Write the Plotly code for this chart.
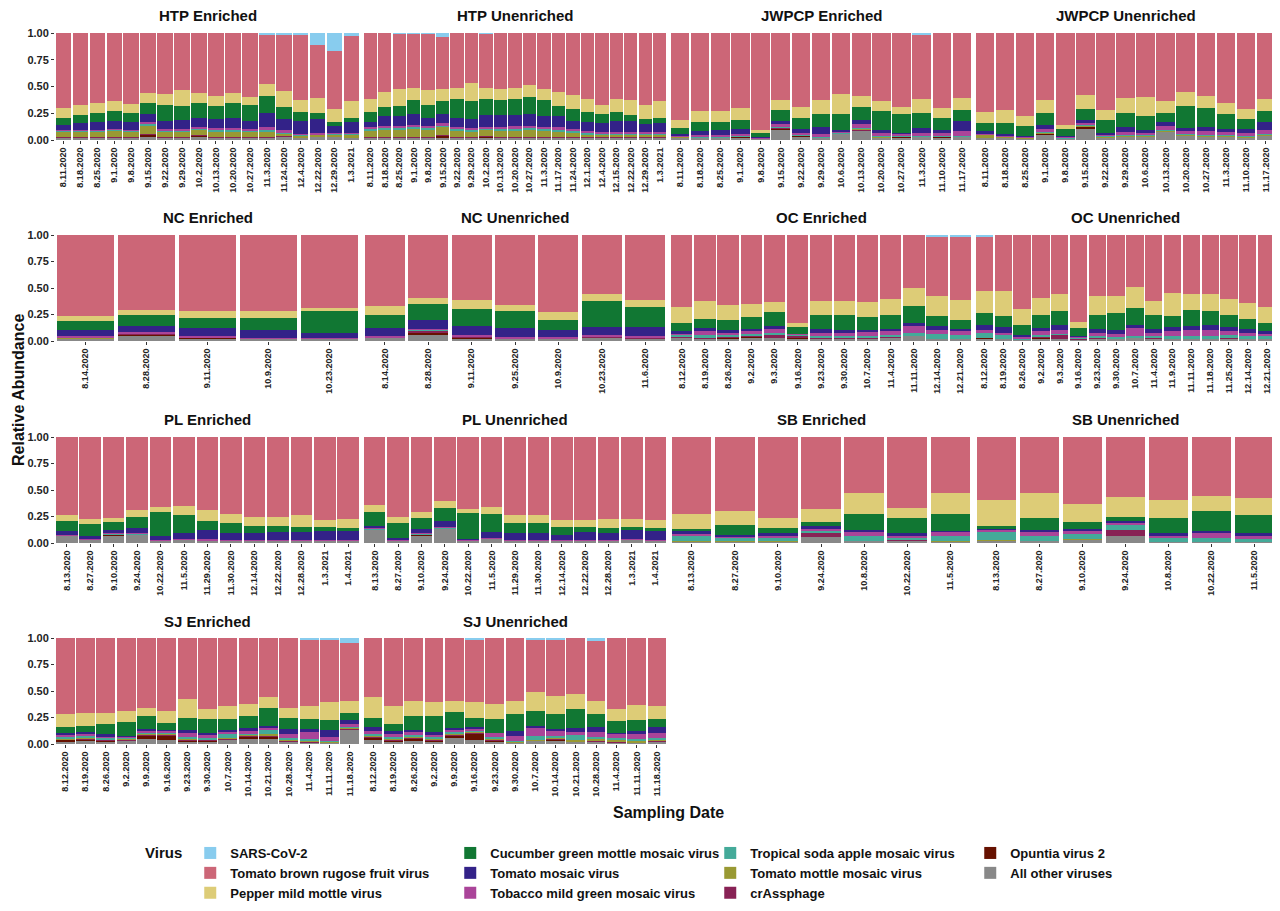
import plotly.graph_objects as go

# %% Data (thickness of minor layers; cumulative tops for ToMV / CGMMV / PMMoV)

HTP_ENR = dict(
    dates=["8.11.2020", "8.18.2020", "8.25.2020", "9.1.2020", "9.8.2020", "9.15.2020", "9.22.2020",
           "9.29.2020", "10.2.2020", "10.13.2020", "10.20.2020", "10.27.2020", "11.3.2020",
           "11.24.2020", "12.4.2020", "12.22.2020", "12.29.2020", "1.3.2021"],
    other=[.02, .02, .02, .02, .02, .03, .02, .02, .03, .02, .02, .02, .02, .03, .02, .03, .03, .02],
    opv2=[.005, .005, .005, .005, .005, .02, .005, .005, .01, .005, .005, .005, .005, .005, 0, 0, 0, 0],
    crass=[.005, .005, .005, .005, .005, .01, .005, .005, .005, .005, .005, .005, .005, .005, 0, 0, 0, 0],
    tommv=[.05, .05, .05, .06, .05, .08, .05, .05, .05, .05, .05, .05, .05, .02, .02, .02, .02, .03],
    tsamv=[.005, .005, .005, .005, .005, .005, .005, .005, .01, .01, .01, .005, .01, .01, .01, .005, .01, .01],
    tmgmv=[.01, .01, .01, .01, .01, .02, .02, .02, .02, .02, .02, .02, .03, .02, .01, .01, .01, .01],
    tomv_top=[.14, .16, .17, .18, .17, .24, .18, .19, .21, .20, .21, .18, .25, .20, .18, .20, .13, .17],
    cgmmv_top=[.21, .23, .25, .27, .25, .35, .33, .32, .35, .32, .35, .33, .41, .31, .26, .25, .17, .21],
    pmmov_top=[.30, .33, .35, .36, .34, .44, .43, .47, .44, .41, .44, .40, .52, .46, .37, .39, .29, .36],
    sars=[0, 0, 0, 0, 0, 0, 0, 0, 0, 0, 0, 0, .01, .02, .01, .11, .17, .03],
)

HTP_UNE = dict(
    dates=["8.11.2020", "8.18.2020", "8.25.2020", "9.1.2020", "9.8.2020", "9.15.2020", "9.22.2020",
           "9.29.2020", "10.2.2020", "10.13.2020", "10.20.2020", "10.27.2020", "11.3.2020",
           "11.17.2020", "11.24.2020", "12.1.2020", "12.4.2020", "12.15.2020", "12.22.2020",
           "12.29.2020", "1.3.2021"],
    other=[.02] * 21,
    opv2=[.005, .005, .005, .005, .005, .02, .005, .005, .01, .005, .005, .005, .005, .005, .005, 0, 0, 0, 0, 0, 0],
    crass=[.005] * 21,
    tommv=[.06, .07, .07, .08, .07, .08, .06, .05, .06, .06, .06, .07, .06, .05, .04, .03, .03, .03, .03, .03, .03],
    tsamv=[.01] * 21,
    tmgmv=[.02, .02, .02, .02, .02, .02, .02, .02, .02, .02, .03, .02, .02, .03, .02, .02, .01, .01, .01, .01, .01],
    tomv_top=[.17, .22, .22, .24, .21, .24, .21, .20, .23, .23, .23, .24, .22, .22, .18, .17, .16, .18, .18, .15, .16],
    cgmmv_top=[.26, .31, .32, .37, .33, .36, .38, .36, .38, .37, .38, .40, .37, .32, .29, .26, .24, .26, .23, .20, .21],
    pmmov_top=[.38, .45, .48, .49, .47, .48, .49, .53, .49, .48, .49, .51, .48, .45, .42, .38, .33, .38, .37, .33, .36],
    sars=[0, 0, .005, .005, .005, .04, 0, 0, .005, 0, 0, 0, 0, 0, 0, 0, 0, 0, 0, 0, 0],
)

JW_DATES = ["8.11.2020", "8.18.2020", "8.25.2020", "9.1.2020", "9.8.2020", "9.15.2020", "9.22.2020",
            "9.29.2020", "10.6.2020", "10.13.2020", "10.20.2020", "10.27.2020", "11.3.2020",
            "11.10.2020", "11.17.2020"]

JW_ENR = dict(
    dates=JW_DATES,
    other=[.02, .02, .02, .02, .01, .10, .03, .02, .06, .09, .02, .02, .03, .02, .03],
    opv2=[0, 0, 0, .01, 0, .01, .01, 0, 0, 0, .005, .01, 0, .01, 0],
    crass=[0, 0, 0, 0, 0, .005, 0, 0, 0, .01, 0, 0, 0, 0, 0],
    tommv=[.01, .005, .005, .005, 0, .005, .005, .005, .005, .005, .005, .005, .005, .005, .005],
    tsamv=[.005] * 15,
    tmgmv=[.01, .02, .02, .02, .005, .02, .02, .03, .01, .04, .03, .02, .03, .03, .04],
    tomv_top=[.06, .08, .09, .10, .03, .18, .10, .12, .09, .19, .09, .07, .11, .09, .18],
    cgmmv_top=[.11, .17, .17, .19, .07, .28, .21, .24, .24, .31, .27, .24, .25, .21, .28],
    pmmov_top=[.19, .27, .27, .30, .09, .37, .31, .37, .43, .41, .36, .31, .38, .30, .39],
    sars=[0, 0, 0, 0, 0, 0, 0, 0, 0, 0, 0, 0, .02, 0, 0],
)

JW_UNE = dict(
    dates=JW_DATES,
    other=[.02, .02, .01, .05, .01, .11, .02, .03, .03, .08, .04, .03, .03, .02, .04],
    opv2=[0, 0, 0, .01, 0, .015, 0, 0, 0, 0, 0, 0, 0, 0, 0],
    crass=[0] * 15,
    tommv=[.03, .01, .01, .01, .005, .01, .01, .01, .01, .01, .01, .01, .01, .01, .01],
    tsamv=[.005] * 15,
    tmgmv=[.01, .01, .01, .03, .01, .02, .02, .03, .02, .04, .03, .04, .03, .03, .04],
    tomv_top=[.08, .06, .04, .14, .04, .19, .07, .12, .09, .17, .11, .12, .10, .10, .17],
    cgmmv_top=[.16, .16, .13, .25, .10, .29, .19, .25, .22, .25, .32, .30, .24, .20, .27],
    pmmov_top=[.26, .28, .22, .37, .14, .42, .28, .39, .40, .36, .45, .41, .35, .29, .38],
    sars=[0] * 15,
)

NC_ENR = dict(
    dates=["8.14.2020", "8.28.2020", "9.11.2020", "10.9.2020", "10.23.2020"],
    other=[.02, .05, .02, .02, .02],
    opv2=[0, .01, .01, 0, 0],
    crass=[0, .01, 0, 0, 0],
    tommv=[.01, 0, 0, 0, 0],
    tsamv=[.005] * 5,
    tmgmv=[.01, .01, .01, .005, .005],
    tomv_top=[.10, .14, .12, .10, .08],
    cgmmv_top=[.19, .25, .22, .22, .28],
    pmmov_top=[.24, .29, .28, .28, .31],
    sars=[0] * 5,
)

NC_UNE = dict(
    dates=["8.14.2020", "8.28.2020", "9.11.2020", "9.25.2020", "10.9.2020", "10.23.2020", "11.6.2020"],
    other=[.03, .06, .02, .02, .02, .03, .02],
    opv2=[0, .02, .01, 0, 0, 0, .005],
    crass=[0, .02, .01, 0, 0, .01, .005],
    tommv=[0] * 7,
    tsamv=[.005] * 7,
    tmgmv=[.01] * 7,
    tomv_top=[.12, .20, .14, .12, .10, .13, .13],
    cgmmv_top=[.25, .35, .30, .28, .20, .38, .32],
    pmmov_top=[.33, .41, .39, .34, .27, .44, .39],
    sars=[0] * 7,
)

OC_ENR = dict(
    dates=["8.12.2020", "8.19.2020", "8.26.2020", "9.2.2020", "9.3.2020", "9.16.2020", "9.23.2020",
           "9.30.2020", "10.7.2020", "11.4.2020", "11.11.2020", "12.14.2020", "12.21.2020"],
    other=[.03, .02, .02, .03, .03, .02, .02, .02, .02, .03, .05, .02, .02],
    opv2=[0, 0, .01, .01, 0, .01, 0, 0, 0, 0, 0, 0, 0],
    crass=[.005, .01, .01, .01, .03, .02, .005, .005, .005, .005, 0, 0, 0],
    tommv=[0] * 13,
    tsamv=[.02, .03, .02, .02, .02, .01, .02, .02, .02, .02, .03, .05, .04],
    tmgmv=[.02, .03, .02, .02, .03, .01, .03, .03, .04, .04, .06, .03, .03],
    tomv_top=[.09, .12, .10, .11, .14, .06, .11, .10, .10, .11, .17, .14, .11],
    cgmmv_top=[.17, .21, .20, .23, .27, .12, .25, .25, .23, .25, .33, .24, .20],
    pmmov_top=[.32, .38, .34, .35, .37, .16, .38, .38, .37, .40, .50, .42, .39],
    sars=[0] * 11 + [.02, .02],
)

OC_UNE = dict(
    dates=["8.12.2020", "8.19.2020", "8.26.2020", "9.2.2020", "9.3.2020", "9.16.2020", "9.23.2020",
           "9.30.2020", "10.7.2020", "11.4.2020", "11.9.2020", "11.11.2020", "11.18.2020",
           "11.25.2020", "12.14.2020", "12.21.2020"],
    other=[.02, .02, .01, .02, .02, .01, .02, .02, .03, .02, .02, .02, .02, .02, .02, .02],
    opv2=[.005, 0, 0, .01, 0, .005, 0, 0, 0, 0, 0, 0, 0, 0, 0, 0],
    crass=[0, 0, .005, .01, .04, .01, .005, 0, 0, .005, 0, 0, 0, .005, 0, 0],
    tommv=[0] * 16,
    tsamv=[.05, .04, .01, .02, .01, .01, .02, .02, .02, .02, .03, .03, .03, .03, .03, .03],
    tmgmv=[.03, .02, .01, .03, .03, .01, .03, .03, .07, .03, .04, .05, .05, .04, .03, .02],
    tomv_top=[.15, .13, .06, .12, .15, .05, .11, .10, .15, .11, .13, .14, .15, .13, .11, .09],
    cgmmv_top=[.26, .24, .15, .25, .28, .12, .25, .26, .31, .25, .24, .29, .28, .25, .21, .17],
    pmmov_top=[.47, .47, .30, .41, .44, .18, .42, .42, .51, .38, .45, .44, .44, .40, .36, .32],
    sars=[.01] + [0] * 15,
)

PL_DATES = ["8.13.2020", "8.27.2020", "9.10.2020", "9.24.2020", "10.22.2020", "11.5.2020", "11.29.2020",
            "11.30.2020", "12.14.2020", "12.22.2020", "12.28.2020", "1.3.2021", "1.4.2021"]

PL_ENR = dict(
    dates=PL_DATES,
    other=[.07, .03, .07, .08, .02, .03, .02, .02, .02, .02, .02, .02, .02],
    opv2=[0, 0, .01, 0, 0, 0, 0, 0, 0, 0, 0, 0, 0],
    crass=[0] * 13,
    tommv=[0] * 13,
    tsamv=[.005] * 13,
    tmgmv=[.005, .005, .01, .01, .005, .005, .01, .005, .005, .005, .005, .005, .005],
    tomv_top=[.11, .07, .12, .14, .07, .09, .12, .09, .09, .10, .10, .11, .11],
    cgmmv_top=[.21, .18, .20, .25, .29, .26, .21, .19, .16, .16, .15, .15, .14],
    pmmov_top=[.26, .23, .24, .31, .34, .35, .31, .27, .25, .25, .26, .22, .23],
    sars=[0] * 13,
)

PL_UNE = dict(
    dates=PL_DATES,
    other=[.13, .02, .07, .14, .02, .04, .02, .02, .02, .02, .02, .03, .02],
    opv2=[0, 0, .01, 0, 0, 0, 0, 0, 0, 0, 0, 0, 0],
    crass=[0] * 13,
    tommv=[0] * 13,
    tsamv=[.005] * 13,
    tmgmv=[.005, .005, .01, .01, .005, .005, .005, .005, .005, .005, .005, .005, .005],
    tomv_top=[.16, .05, .13, .21, .04, .10, .09, .09, .08, .10, .09, .12, .11],
    cgmmv_top=[.29, .19, .24, .33, .28, .27, .19, .19, .15, .15, .14, .15, .14],
    pmmov_top=[.36, .25, .29, .40, .32, .34, .26, .26, .22, .22, .23, .23, .22],
    sars=[0] * 13,
)

SB_DATES = ["8.13.2020", "8.27.2020", "9.10.2020", "9.24.2020", "10.8.2020", "10.22.2020", "11.5.2020"]

SB_ENR = dict(
    dates=SB_DATES,
    other=[.01, .01, .01, .06, .02, .02, .01],
    opv2=[0] * 7,
    crass=[0, 0, 0, .03, 0, .01, 0],
    tommv=[.005, .005, .005, 0, 0, 0, .005],
    tsamv=[.05, .04, .03, .02, .05, .02, .05],
    tmgmv=[.02, .01, .02, .02, .03, .02, .04],
    tomv_top=[.11, .08, .09, .16, .12, .09, .11],
    cgmmv_top=[.13, .17, .14, .20, .27, .24, .27],
    pmmov_top=[.27, .30, .24, .32, .47, .33, .47],
    sars=[0] * 7,
)

SB_UNE = dict(
    dates=SB_DATES,
    other=[.02, .02, .03, .07, .01, .01, .01],
    opv2=[0] * 7,
    crass=[0, 0, 0, .05, 0, 0, 0],
    tommv=[.005, 0, .005, 0, 0, 0, 0],
    tsamv=[.08, .05, .05, .05, .04, .04, .03],
    tmgmv=[.02, .03, .03, .02, .02, .04, .03],
    tomv_top=[.13, .12, .13, .21, .09, .11, .09],
    cgmmv_top=[.16, .24, .20, .25, .24, .30, .26],
    pmmov_top=[.41, .47, .37, .43, .41, .44, .42],
    sars=[0] * 7,
)

SJ_DATES = ["8.12.2020", "8.19.2020", "8.26.2020", "9.2.2020", "9.9.2020", "9.16.2020", "9.23.2020",
            "9.30.2020", "10.7.2020", "10.14.2020", "10.21.2020", "10.28.2020", "11.4.2020",
            "11.11.2020", "11.18.2020"]

SJ_ENR = dict(
    dates=SJ_DATES,
    other=[.02, .03, .02, .03, .05, .04, .02, .02, .04, .05, .05, .02, .01, .01, .14],
    opv2=[.02, .01, .01, .005, .03, .04, .01, .01, 0, .02, .02, 0, 0, 0, 0],
    crass=[.005, .01, .01, .01, .01, .01, .01, .01, .01, .01, .01, .005, .01, .005, .01],
    tommv=[.01, .005, .005, .005, .005, .005, .005, .005, .01, .005, .01, .02, .01, .005, .005],
    tsamv=[.01, .02, .01, .01, .01, .01, .02, .01, .03, .01, .04, .01, .02, .01, .01],
    tmgmv=[.02, .02, .02, .01, .02, .02, .04, .03, .03, .03, .03, .04, .06, .04, .02],
    tomv_top=[.10, .11, .09, .08, .14, .13, .13, .10, .13, .15, .17, .14, .14, .13, .23],
    cgmmv_top=[.16, .17, .19, .21, .26, .20, .25, .24, .24, .26, .34, .25, .24, .23, .29],
    pmmov_top=[.28, .29, .29, .31, .34, .31, .42, .33, .36, .38, .44, .34, .36, .40, .41],
    sars=[0] * 12 + [.02, .01, .05],
)

SJ_UNE = dict(
    dates=SJ_DATES,
    other=[.04, .02, .03, .02, .06, .04, .02, .01, .03, .03, .02, .02, .01, .01, .02],
    opv2=[.02, .01, .02, .01, .02, .06, .01, 0, 0, .01, 0, 0, 0, 0, 0],
    crass=[.01, .01, .01, .01, .01, .01, .01, .005, .005, .01, .005, .005, .005, .005, .01],
    tommv=[.005, .005, .005, .005, .005, .005, .005, .005, .005, .005, .01, .02, .02, .01, .005],
    tsamv=[.02, .02, .02, .02, .02, .01, .02, .01, .04, .02, .05, .02, .02, .02, .02],
    tmgmv=[.03, .03, .03, .02, .02, .02, .04, .05, .07, .05, .03, .05, .04, .05, .05],
    tomv_top=[.16, .12, .13, .11, .15, .16, .10, .12, .17, .14, .15, .16, .10, .12, .16],
    cgmmv_top=[.25, .19, .26, .26, .30, .25, .23, .28, .31, .28, .33, .28, .22, .23, .24],
    pmmov_top=[.44, .36, .41, .40, .41, .40, .37, .41, .49, .45, .47, .41, .33, .37, .36],
    sars=[0, 0, 0, 0, 0, .02, 0, 0, .01, .02, 0, .03, 0, 0, 0],
)

panels = [
    ("HTP Enriched", HTP_ENR), ("HTP Unenriched", HTP_UNE), ("JWPCP Enriched", JW_ENR), ("JWPCP Unenriched", JW_UNE),
    ("NC Enriched", NC_ENR), ("NC Unenriched", NC_UNE), ("OC Enriched", OC_ENR), ("OC Unenriched", OC_UNE),
    ("PL Enriched", PL_ENR), ("PL Unenriched", PL_UNE), ("SB Enriched", SB_ENR), ("SB Unenriched", SB_UNE),
    ("SJ Enriched", SJ_ENR), ("SJ Unenriched", SJ_UNE),
]

# stack order bottom -> top: (key, legend label, colour, legend rank)
viruses = [
    ("other", "All other viruses", "#888888", 8),
    ("opv2", "Opuntia virus 2", "#661100", 4),
    ("crass", "crAssphage", "#882255", 11),
    ("tommv", "Tomato mottle mosaic virus", "#999933", 7),
    ("tsamv", "Tropical soda apple mosaic virus", "#44AA99", 3),
    ("tmgmv", "Tobacco mild green mosaic virus", "#AA4499", 10),
    ("tomv", "Tomato mosaic virus", "#332288", 6),
    ("cgmmv", "Cucumber green mottle mosaic virus", "#117733", 2),
    ("pmmov", "Pepper mild mottle virus", "#DDCC77", 9),
    ("tbrfv", "Tomato brown rugose fruit virus", "#CC6677", 5),
    ("sars", "SARS-CoV-2", "#88CCEE", 1),
]

# %% Layout geometry (window pixels; the page body adds an 8px offset)
OFF = 8
W, H = 1280 - OFF, 911 - OFF
cols_px = [(55, 360), (363, 667), (670, 972), (975, 1276)]
rows_px = [(33, 140), (235, 341), (437, 543), (638, 744)]
FONT = "Liberation Sans"


def px(xp):
    return (xp - OFF) / W


def py(yp):
    return 1 - (yp - OFF) / H


fig = go.Figure()
layout = {}
annotations = []

for i, (title, d) in enumerate(panels):
    r, c = divmod(i, 4)
    n = i + 1
    xa = "x" if n == 1 else f"x{n}"
    ya = "y" if n == 1 else f"y{n}"
    minor = [sum(v) for v in zip(d["other"], d["opv2"], d["crass"], d["tommv"], d["tsamv"], d["tmgmv"])]
    layers = {k: d[k] for k in ["other", "opv2", "crass", "tommv", "tsamv", "tmgmv", "sars"]}
    layers["tomv"] = [max(0, t - m) for t, m in zip(d["tomv_top"], minor)]
    layers["cgmmv"] = [g - t for g, t in zip(d["cgmmv_top"], d["tomv_top"])]
    layers["pmmov"] = [p - g for p, g in zip(d["pmmov_top"], d["cgmmv_top"])]
    layers["tbrfv"] = [1 - p - s for p, s in zip(d["pmmov_top"], d["sars"])]
    for key, label, colour, rank in viruses:
        fig.add_trace(go.Bar(
            x=d["dates"], y=layers[key], name=label, marker_color=colour,
            marker_line_width=0, xaxis=xa, yaxis=ya, legendrank=rank,
            showlegend=(i == 0), legendgroup=key,
        ))
    x0, x1 = cols_px[c]
    y0, y1 = rows_px[r]
    layout["xaxis" if n == 1 else f"xaxis{n}"] = dict(
        domain=[px(x0), px(x1)], anchor=ya, type="category", tickangle=-90,
        ticks="outside", ticklen=3, tickcolor="#333", showgrid=False, zeroline=False,
        tickfont=dict(family=FONT, size=9, color="#222", weight="bold"), automargin=False,
    )
    layout["yaxis" if n == 1 else f"yaxis{n}"] = dict(
        domain=[py(y1), py(y0)], anchor=xa, range=[0, 1],
        tickvals=[0, .25, .5, .75, 1], ticktext=["0.00", "0.25", "0.50", "0.75", "1.00"],
        showticklabels=(c == 0), ticks="outside" if c == 0 else "", ticklen=3, tickcolor="#333",
        showgrid=False, zeroline=False,
        tickfont=dict(family=FONT, size=11, color="#222", weight="bold"), automargin=False,
    )
    annotations.append(dict(
        text=f"<b>{title}</b>", x=px((x0 + x1) / 2), y=py(y0 - 17), xref="paper", yref="paper",
        showarrow=False, font=dict(family=FONT, size=15, color="#111"),
        xanchor="center", yanchor="middle",
    ))

annotations.append(dict(text="<b>Relative Abundance</b>", x=px(19), y=py(390), xref="paper", yref="paper",
                        showarrow=False, textangle=-90, xanchor="center", yanchor="middle",
                        font=dict(family=FONT, size=16, color="#111")))
annotations.append(dict(text="<b>Sampling Date</b>", x=px(668), y=py(812), xref="paper", yref="paper",
                        showarrow=False, xanchor="center", yanchor="middle",
                        font=dict(family=FONT, size=16, color="#111")))

fig.update_layout(
    **layout,
    annotations=annotations,
    barmode="stack", bargap=0.08,
    width=W, height=H,
    margin=dict(l=0, r=0, t=0, b=0),
    plot_bgcolor="white", paper_bgcolor="white",
    legend=dict(
        orientation="h", x=px(143), y=py(838), xanchor="left", yanchor="top",
        title=dict(text="<b>Virus</b>", side="left", font=dict(family=FONT, size=15, color="#111")),
        font=dict(family=FONT, size=13, color="#111", weight="bold"),
        entrywidth=215, entrywidthmode="pixels", traceorder="normal", itemclick=False,
        tracegroupgap=0,
    ),
)

fig.write_html("out.html")
